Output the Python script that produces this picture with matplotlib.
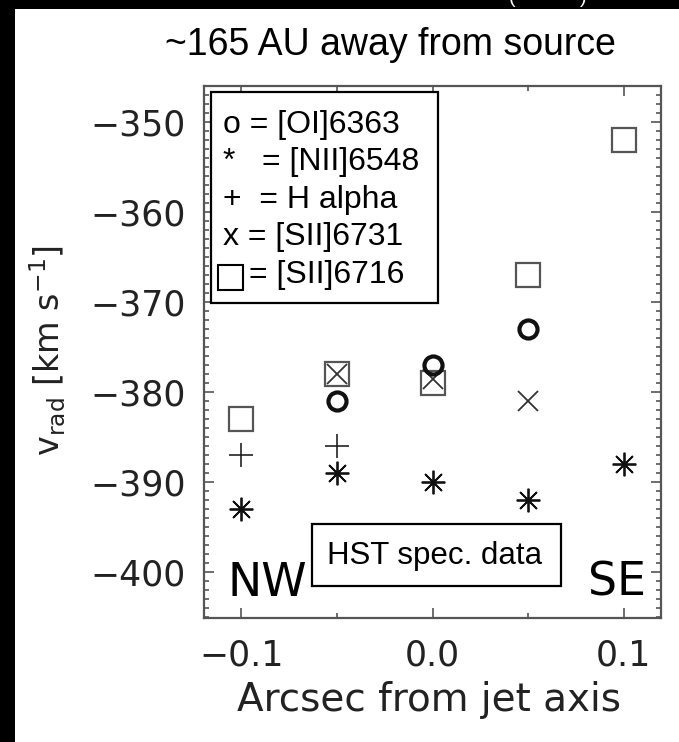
import numpy as np
import matplotlib
matplotlib.use("Agg")
import matplotlib.pyplot as plt
from matplotlib.patches import Rectangle

W, H = 679, 742

# ----------------------------------------------------------------------
# данные
offsets = [-0.1, -0.05, 0.0, 0.05, 0.1]          # arcsec from jet axis
oi6363 = [np.nan, -381, -377, -373, np.nan]
nii6548 = [-393, -389, -390, -392, -388]
halpha = [-387, -386, np.nan, np.nan, np.nan]
sii6731 = [np.nan, -378, -378.5, -381, np.nan]
sii6716 = [-383, -378, -379, -367, -352]

legend_lines = ["o = [OI]6363", "*   = [NII]6548", "+  = H alpha",
                "x = [SII]6731", "= [SII]6716"]

x_major = [-0.1, 0.0, 0.1]
x_minor = [-0.05, 0.05]
y_major = [-400, -390, -380, -370, -360, -350]
y_minor = np.arange(-405, -345, 1)


def px(x, y):
    """пиксели картинки -> доли фигуры"""
    return x / W, 1 - y / H


def box(x0, y0, x1, y1, lw=1.6, ec="black"):
    """прямоугольник в пикселях картинки (x0,y0 - левый верхний угол)"""
    a, b = px(x0, y1)
    fig.patches.append(Rectangle((a, b), (x1 - x0) / W, (y1 - y0) / H,
                                 transform=fig.transFigure, facecolor="none",
                                 edgecolor=ec, linewidth=lw, zorder=5))


fig = plt.figure(figsize=(W / 100, H / 100), dpi=100)
fig.patch.set_facecolor("white")

# чёрные полосы по краям (обрезанный скриншот)
fig.patches.append(Rectangle(px(0, H), 15 / W, 1, transform=fig.transFigure,
                             facecolor="black", edgecolor="none", zorder=0))
fig.patches.append(Rectangle(px(0, 9), 1, 9 / H, transform=fig.transFigure,
                             facecolor="black", edgecolor="none", zorder=0))
for xp, s in [(512, "("), (583, ")")]:
    fig.text(*px(xp, 3), s, color="white", fontsize=14, family="Liberation Sans",
             ha="center", va="baseline")

ax = fig.add_axes([204 / W, 1 - 618 / H, (661 - 204) / W, (618 - 86) / H])
ax.set_xlim(-0.1195, 0.1195)
ax.set_ylim(-405.1, -346.0)

gray = "#555555"
ax.plot(offsets, sii6716, linestyle="none", marker="s", markersize=17,
        markerfacecolor="none", markeredgecolor=gray, markeredgewidth=1.6)
ax.plot(offsets, sii6731, linestyle="none", marker="x", markersize=15,
        markeredgecolor="#333333", markeredgewidth=1.3)
ax.plot(offsets, halpha, linestyle="none", marker="+", markersize=17,
        markeredgecolor="#222222", markeredgewidth=1.2)
ax.plot(offsets, nii6548, linestyle="none", marker=(8, 2, 0), markersize=17,
        markeredgecolor="#111111", markeredgewidth=1.3)
ax.plot(offsets, oi6363, linestyle="none", marker="o", markersize=13,
        markerfacecolor="none", markeredgecolor="#111111", markeredgewidth=3.0)

ax.set_xticks(x_major)
ax.set_xticks(x_minor, minor=True)
ax.set_yticks(y_major)
ax.set_yticks(y_minor, minor=True)
ax.tick_params(which="both", direction="in", top=True, right=True,
               color=gray, width=1.2, labelsize=25, labelcolor="#222222")
ax.tick_params(which="major", length=7.5)
ax.tick_params(which="minor", length=3.6)
ax.tick_params(axis="y", pad=13)
ax.tick_params(axis="x", pad=15)
for sp in ax.spines.values():
    sp.set_color(gray)
    sp.set_linewidth(1.6)

# подписи осей и заголовок
fig.text(*px(390, 45), "~165 AU away from source", fontsize=27,
         family="Liberation Sans", ha="center", va="center")
fig.text(*px(429, 700), "Arcsec from jet axis", fontsize=28,
         ha="center", va="center", color="#222222")
fig.text(*px(48, 350), r"v$_{\rm rad}$ [km s$^{-1}$]", fontsize=24,
         rotation=90, ha="center", va="center", color="#222222")

# NW / SE
fig.text(*px(228, 596), "NW", fontsize=33, ha="left", va="baseline")
fig.text(*px(588, 596), "SE", fontsize=33, ha="left", va="baseline")

# легенда-табличка
fig.patches.append(Rectangle(px(211, 303), (438 - 211) / W, (303 - 92) / H,
                             transform=fig.transFigure, facecolor="white",
                             edgecolor="black", linewidth=1.6, zorder=4))
ys = [125, 162, 200, 237, 275]
for yy, line in zip(ys, legend_lines):
    xx = 223 if not line.startswith("=") else 249
    fig.text(*px(xx, yy), line, fontsize=23, family="Liberation Sans",
             ha="left", va="center", zorder=6)
box(218, 265, 243, 290, lw=1.5)

# HST spec. data
fig.patches.append(Rectangle(px(312, 586), (561 - 312) / W, (586 - 524) / H,
                             transform=fig.transFigure, facecolor="white",
                             edgecolor="black", linewidth=1.6, zorder=4))
fig.text(*px(435, 556), "HST spec. data", fontsize=22.5, family="Liberation Sans",
         ha="center", va="center", zorder=6)

fig.savefig("out.png", dpi=100)
